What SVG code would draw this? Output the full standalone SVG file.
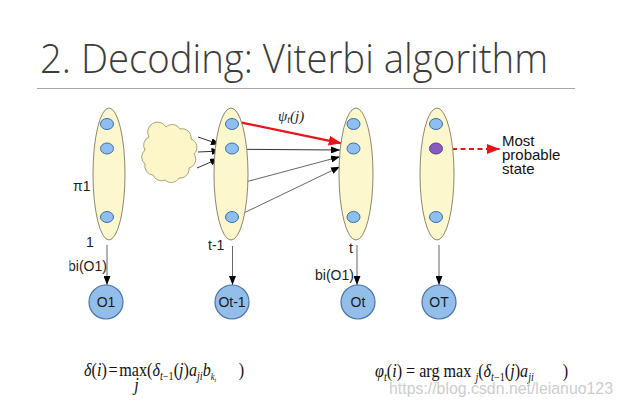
<svg xmlns="http://www.w3.org/2000/svg" width="622" height="407" viewBox="0 0 622 407">
<style>
.col{fill:#fcf7cd;stroke:#8c8770;stroke-width:1}
.dot{fill:#8fbef0;stroke:#3f6fa8;stroke-width:1}
.obs{fill:#93bee9;stroke:#4b72a8;stroke-width:1.2}
.lbl{font-family:"Liberation Sans",Arial,sans-serif;font-size:14px;fill:#222}
.obst{font-family:"Liberation Sans",Arial,sans-serif;font-size:14px;fill:#1a1a1a;text-anchor:middle}
.f{font-family:"Liberation Serif","Times New Roman",serif;font-size:19px;fill:#111}
.it{font-style:italic}
.blk{stroke:#333;stroke-width:1;fill:none;marker-end:url(#ab)}
.gry{stroke:#666;stroke-width:1;fill:none;marker-end:url(#ab)}
</style>
<defs>
<marker id="ab" markerUnits="userSpaceOnUse" markerWidth="9" markerHeight="7" refX="9" refY="3.5" orient="auto"><path d="M0,0 L9,3.5 L0,7 z" fill="#000"/></marker>
<marker id="ar" markerUnits="userSpaceOnUse" markerWidth="13" markerHeight="10" refX="13" refY="5" orient="auto"><path d="M0,0 L13,5 L0,10 z" fill="#e8141a"/></marker>
<clipPath id="lc"><rect x="69.5" y="250" width="60" height="30"/></clipPath>
</defs>
<rect width="622" height="407" fill="#fff"/>
<g id="title">
<text x="40" y="73" font-family="'Open Sans',sans-serif" font-weight="300" font-size="40" fill="#3c3c3c" textLength="508" lengthAdjust="spacingAndGlyphs">2. Decoding: Viterbi algorithm</text>
<line x1="37" y1="88.5" x2="575" y2="88.5" stroke="#a8a8a8" stroke-width="1.2"/>
</g>
<g id="connectors">
<line class="blk" x1="198" y1="137" x2="220" y2="144.5"/>
<line class="blk" x1="198" y1="152" x2="220.5" y2="151"/>
<line class="blk" x1="197" y1="168" x2="219" y2="158.5"/>
<line x1="241.7" y1="122.7" x2="341.7" y2="143.3" stroke="#e8141a" stroke-width="2.2" marker-end="url(#ar)"/>
<line class="blk" x1="241.7" y1="149.3" x2="340" y2="150"/>
<line class="gry" x1="241.7" y1="183" x2="340" y2="156.7"/>
<line class="gry" x1="241.7" y1="214" x2="340" y2="166.7"/>
<line x1="452" y1="149" x2="500" y2="149" stroke="#e8141a" stroke-width="2" stroke-dasharray="5,3.5" marker-end="url(#ar)"/>
<line class="gry" x1="107" y1="245" x2="107" y2="285"/>
<line class="gry" x1="232.5" y1="246" x2="232.5" y2="285"/>
<line class="gry" x1="357" y1="245" x2="357" y2="285"/>
<line class="gry" x1="439" y1="245" x2="439" y2="285"/>
</g>
<g id="state-1">
<ellipse class="col" cx="109" cy="174" rx="16" ry="66"/>
<ellipse class="dot" cx="107" cy="124" rx="6.5" ry="5.5"/>
<ellipse class="dot" cx="107" cy="148.5" rx="6.5" ry="5.5"/>
<ellipse class="dot" cx="107" cy="217" rx="6.5" ry="5.5"/>
</g>
<g id="cloud">
<path d="M166,127 A9,9 0 0 1 180,129 A9,9 0 0 1 191,139 A9,9 0 0 1 194,154 A9,9 0 0 1 189,168 A9,9 0 0 1 179,178 A9,9 0 0 1 165,180 A9,9 0 0 1 153,175 A9,9 0 0 1 145,164 A9,9 0 0 1 145,150 A9,9 0 0 1 149,137 A9,9 0 0 1 166,127 z" fill="#fcf6c8" stroke="#a9a27c" stroke-width="1"/>
</g>
<g id="state-t-1">
<ellipse class="col" cx="231" cy="174" rx="17" ry="66"/>
<ellipse class="dot" cx="232" cy="124" rx="6.5" ry="5.5"/>
<ellipse class="dot" cx="232" cy="148.5" rx="6.5" ry="5.5"/>
<ellipse class="dot" cx="232" cy="217" rx="6.5" ry="5.5"/>
</g>
<g id="state-t">
<ellipse class="col" cx="356" cy="174" rx="17" ry="66"/>
<ellipse class="dot" cx="353.5" cy="124" rx="6.5" ry="5.5"/>
<ellipse class="dot" cx="353.5" cy="148.5" rx="6.5" ry="5.5"/>
<ellipse class="dot" cx="353.5" cy="217" rx="6.5" ry="5.5"/>
</g>
<g id="state-T">
<ellipse class="col" cx="437" cy="174" rx="17" ry="66"/>
<ellipse class="dot" cx="436" cy="124" rx="6.5" ry="5.5"/>
<ellipse cx="436" cy="148.5" rx="6.5" ry="5.5" fill="#8a5cc0" stroke="#5a3c88" stroke-width="1"/>
<ellipse class="dot" cx="436" cy="217" rx="6.5" ry="5.5"/>
</g>
<g id="obs-O1"><circle class="obs" cx="106" cy="302" r="17"/><text class="obst" x="106" y="307">O1</text></g>
<g id="obs-Ot-1"><circle class="obs" cx="232" cy="302" r="17"/><text class="obst" x="232" y="307">Ot-1</text></g>
<g id="obs-Ot"><circle class="obs" cx="358" cy="302" r="17"/><text class="obst" x="358" y="307">Ot</text></g>
<g id="obs-OT"><circle class="obs" cx="439" cy="302" r="17"/><text class="obst" x="439" y="307">OT</text></g>
<g id="labels">
<text class="lbl" x="73" y="191">π1</text>
<text class="lbl" x="86" y="247">1</text>
<text class="lbl" x="68" y="271" clip-path="url(#lc)">bi(O1)</text>
<text class="lbl" x="208" y="250">t-1</text>
<text class="lbl" x="349" y="253">t</text>
<text class="lbl" x="315" y="280">bi(O1)</text>
<text x="278" y="121" font-family="'Liberation Serif',serif" font-style="italic" font-size="15" fill="#222">ψ<tspan font-size="10" dy="2">t</tspan><tspan dy="-2">(j)</tspan></text>
<text font-family="'Liberation Sans',Arial,sans-serif" font-size="15" fill="#111"><tspan x="502" y="146">Most</tspan><tspan x="502" y="160">probable</tspan><tspan x="502" y="174">state</tspan></text>
</g>
<g id="formula-delta" transform="translate(84,376) scale(0.85,1)">
<text class="f" x="0" y="0"><tspan class="it">δ</tspan>(<tspan class="it">i</tspan>)<tspan dx="2">=</tspan><tspan dx="2">max(</tspan><tspan class="it">δ</tspan><tspan class="it" font-size="12" dy="4">t</tspan><tspan font-size="12">−1</tspan><tspan dy="-4">(</tspan><tspan class="it">j</tspan>)<tspan class="it">a</tspan><tspan class="it" font-size="12" dy="4">ji</tspan><tspan class="it" dy="-4">b</tspan><tspan class="it" font-size="10" dy="4">k</tspan><tspan class="it" font-size="7" dy="2">t</tspan><tspan x="182" dy="-6">)</tspan></text>
<text class="f it" x="59" y="15" font-size="11">j</text>
</g>
<g id="formula-phi" transform="translate(375,377) scale(0.85,1)">
<text class="f" x="0" y="0"><tspan class="it">φ</tspan><tspan class="it" font-size="12" dy="4">t</tspan><tspan dy="-4">(</tspan><tspan class="it">i</tspan>) = arg max <tspan class="it" font-size="12" dy="4">j</tspan><tspan dy="-4">(</tspan><tspan class="it">δ</tspan><tspan class="it" font-size="12" dy="4">t</tspan><tspan font-size="12">−1</tspan><tspan dy="-4">(</tspan><tspan class="it">j</tspan>)<tspan class="it">a</tspan><tspan class="it" font-size="12" dy="4">ji</tspan><tspan x="221" dy="-4">)</tspan></text>
</g>
<g id="watermark">
<text x="389" y="394" font-family="'Liberation Sans',Arial,sans-serif" font-size="17" fill="#cdcdcd" textLength="224" lengthAdjust="spacingAndGlyphs">https://blog.csdn.net/leianuo123</text>
</g>
</svg>
